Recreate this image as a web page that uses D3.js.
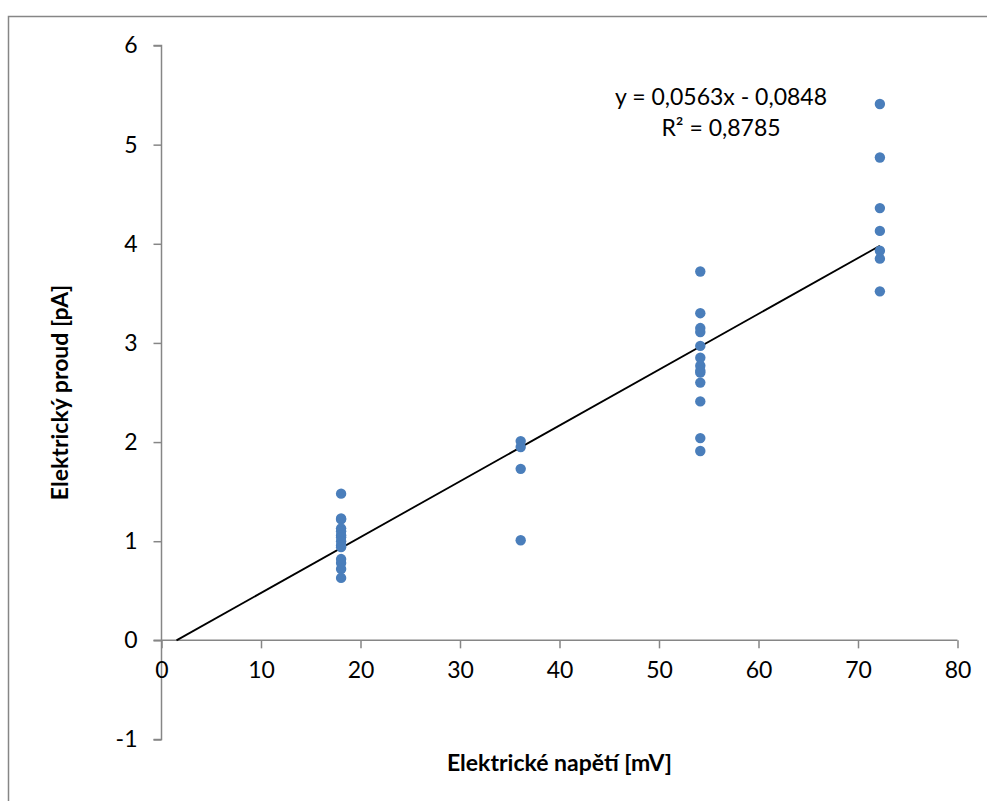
<!DOCTYPE html>
<html>
<head>
<meta charset="utf-8">
<script src="https://cdn.jsdelivr.net/npm/d3@7/dist/d3.min.js"></script>
<style>
  html, body { margin: 0; padding: 0; background: #fff; }
  svg { display: block; }
  text { font-family: Lato, "Open Sans", sans-serif; fill: #000; }
</style>
</head>
<body>
<svg id="chart" width="987" height="801"></svg>
<script>
// Applied voltage levels [mV]
const voltages = [18.05, 36.1, 54.15, 72.2];
// Measured currents [pA] at each voltage level
const current18 = [1.48, 1.23, 1.22, 1.13, 1.10, 1.06, 1.04, 1.00, 0.96, 0.94, 0.82, 0.78, 0.72, 0.63];
const current36 = [2.01, 1.95, 1.73, 1.01];
const current54 = [3.72, 3.30, 3.15, 3.11, 2.97, 2.85, 2.77, 2.72, 2.70, 2.60, 2.41, 2.04, 1.91];
const current72 = [5.41, 4.87, 4.36, 4.13, 3.93, 3.85, 3.52];
// Linear trend: y = slope * x + intercept
const slope = 0.0563;
const intercept = -0.0848;
const rSquared = 0.8785;
const xTicks = [0, 10, 20, 30, 40, 50, 60, 70, 80];
const yTicks = [-1, 0, 1, 2, 3, 4, 5, 6];

const groups = [current18, current36, current54, current72];
const points = [];
groups.forEach((vals, i) => vals.forEach(v => points.push({ x: voltages[i], y: v })));

const svg = d3.select("#chart");
const axisColor = "#868686";

// outer chart frame (left and top edges)
svg.append("path")
  .attr("d", "M8.5,801 L8.5,16.5 L987,16.5")
  .attr("fill", "none")
  .attr("stroke", axisColor)
  .attr("stroke-width", 1.5);

const x = d3.scaleLinear().domain([0, 80]).range([161.5, 957.5]);
const y = d3.scaleLinear().domain([-1, 6]).range([739.5, 45.5]);

const fmt = d => String(d);

// y axis
const yAxis = svg.append("g")
  .attr("transform", `translate(${x(0)},0)`)
  .call(d3.axisLeft(y).tickValues(yTicks).tickSize(8).tickPadding(16).tickFormat(fmt));
// x axis at y = 0
const xAxis = svg.append("g")
  .attr("transform", `translate(0,${y(0)})`)
  .call(d3.axisBottom(x).tickValues(xTicks).tickSize(8).tickPadding(13).tickFormat(fmt));

[yAxis, xAxis].forEach(g => {
  g.select(".domain").attr("stroke", axisColor).attr("stroke-width", 1.5);
  g.selectAll(".tick line").attr("stroke", axisColor).attr("stroke-width", 1.5);
  g.selectAll(".tick text")
    .attr("fill", "#000")
    .style("font-family", "Lato, 'Open Sans', sans-serif")
    .style("font-size", "23px");
});
// x axis line starts at the end of the y-axis ticks
xAxis.select(".domain").attr("d", `M${x(0) - 8},0H${x(80)}`);
// y axis line with end ticks pointing left
yAxis.select(".domain").attr("d", `M-8,${y(6)}H0V${y(-1)}H-8`);

// trend line from its zero crossing to the last voltage level
const x0 = -intercept / slope;
const x1 = d3.max(voltages);
svg.append("line")
  .attr("x1", x(x0)).attr("y1", y(slope * x0 + intercept))
  .attr("x2", x(x1)).attr("y2", y(slope * x1 + intercept))
  .attr("stroke", "#000")
  .attr("stroke-width", 1.8);

// measurement points
svg.append("g")
  .selectAll("circle")
  .data(points)
  .join("circle")
  .attr("cx", d => x(d.x))
  .attr("cy", d => y(d.y))
  .attr("r", 5.2)
  .attr("fill", "#4A7EBB");

// trend equation label
const eqLabel = svg.append("g").attr("transform", "translate(721,0)");
const num = v => v.toFixed(4).replace(".", ",");
eqLabel.append("text")
  .attr("x", 0).attr("y", 105)
  .attr("text-anchor", "middle")
  .style("font-size", "23px")
  .text(`y = ${num(slope)}x - ${num(-intercept)}`);
eqLabel.append("text")
  .attr("x", 0).attr("y", 136)
  .attr("text-anchor", "middle")
  .style("font-size", "23px")
  .text(`R² = ${num(rSquared)}`);

// axis titles
svg.append("text")
  .attr("x", x(40)).attr("y", 771)
  .attr("text-anchor", "middle")
  .style("font-size", "23px")
  .style("font-weight", "bold")
  .text("Elektrické napětí [mV]");
svg.append("text")
  .attr("transform", `translate(68,${(y(6) + y(-1)) / 2}) rotate(-90)`)
  .attr("text-anchor", "middle")
  .style("font-size", "23px")
  .style("font-weight", "bold")
  .text("Elektrický proud [pA]");
</script>
</body>
</html>
